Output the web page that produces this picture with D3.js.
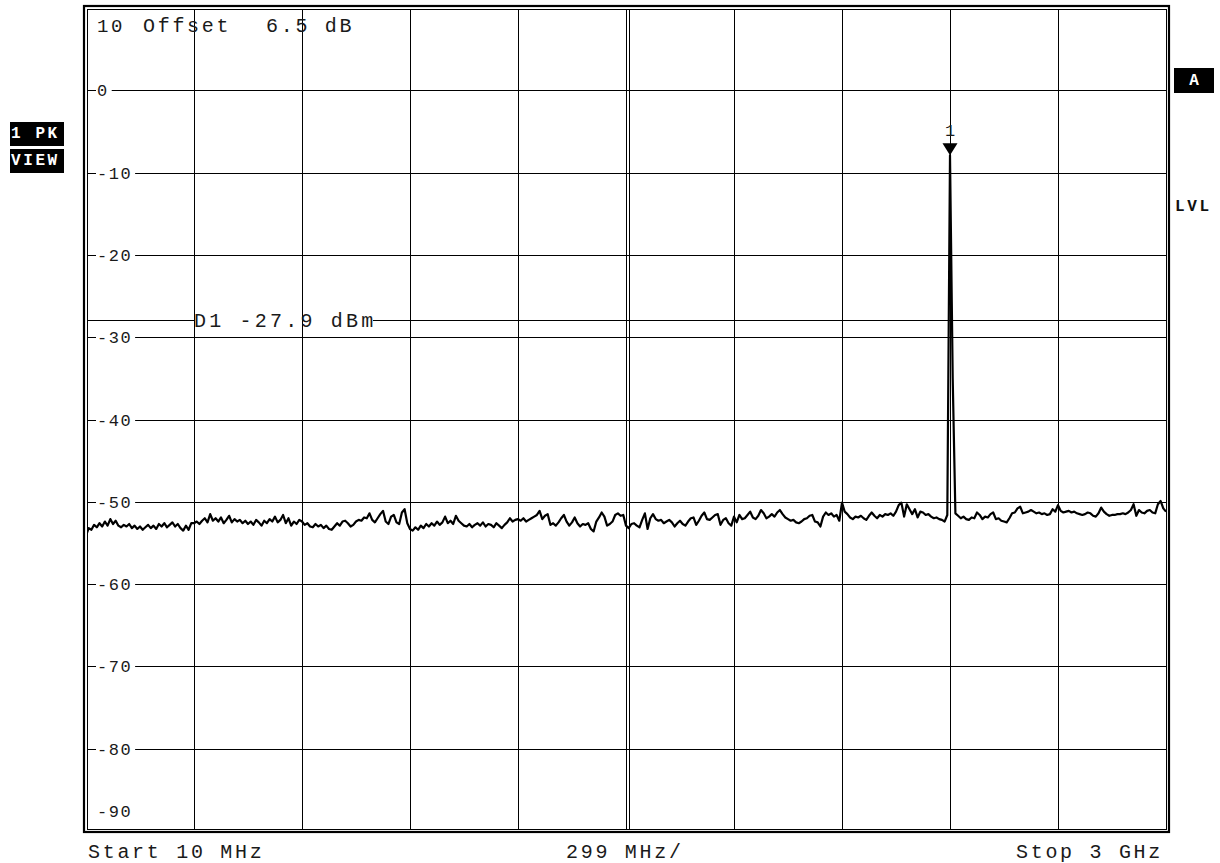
<!DOCTYPE html>
<html><head><meta charset="utf-8">
<script src="https://cdn.jsdelivr.net/npm/d3@7"></script>
<style>
html,body{margin:0;padding:0;background:#fff;}
svg{display:block;}
text{font-family:"Liberation Mono","Courier New",monospace;}
</style>
</head><body>
<svg id="chart" width="1220" height="863"></svg>
<script>
// ---- data ----
const freqStartMHz = 10;
const freqStopMHz = 3000;
const freqPerDivMHz = 299;
const refLevelDb = 10;
const dbPerDiv = 10;
const yTickValues = [10, 0, -10, -20, -30, -40, -50, -60, -70, -80, -90];
const yTickLabels = ["10", "0", "-10", "-20", "-30", "-40", "-50", "-60", "-70", "-80", "-90"];
const offsetLabel = ["Offset", "6.5 dB"];
const bottomLabels = ["Start 10 MHz", "299 MHz/", "Stop 3 GHz"];
const displayLineDbm = -27.9;
const displayLineLabel = "D1 -27.9 dBm";
const markerFreqs = [2402];
const markerLevels = [-7.9];
const markerLabels = ["1"];
const leftBadges = ["1 PK", "VIEW"];
const rightBadge = "A";
const rightLabel = "LVL";
// trace, 401 sweep points from 10 MHz to 3 GHz (dBm)
const traceDbm = [
 -54.1,-53.2,-53.4,-52.8,-53.1,-52.6,-53.0,-52.4,-52.9,-52.1,
 -52.7,-52.3,-52.9,-53.1,-52.8,-53.0,-52.7,-53.2,-52.9,-53.3,
 -53.0,-53.4,-53.1,-52.8,-53.2,-52.9,-53.3,-52.7,-53.0,-52.6,
 -53.1,-52.8,-52.5,-53.0,-52.7,-53.2,-53.5,-52.9,-53.4,-52.6,
 -52.6,-52.4,-52.7,-52.3,-52.0,-52.5,-51.5,-52.3,-52.0,-52.4,
 -51.9,-52.6,-52.2,-51.7,-52.5,-52.1,-52.4,-52.2,-52.6,-52.3,
 -52.7,-52.4,-52.8,-52.2,-52.5,-52.9,-52.3,-52.6,-52.1,-52.4,
 -51.8,-52.5,-52.2,-51.6,-52.6,-52.0,-52.9,-52.4,-52.7,-52.2,
 -52.4,-52.8,-52.6,-53.0,-53.1,-52.7,-53.0,-52.8,-53.2,-52.9,
 -53.3,-53.4,-53.0,-52.6,-52.9,-52.4,-52.3,-52.6,-53.0,-52.8,
 -52.4,-52.2,-52.3,-51.9,-52.0,-51.4,-52.2,-52.5,-52.0,-51.5,
 -51.1,-52.4,-52.7,-51.8,-51.6,-52.5,-52.7,-51.3,-50.9,-52.6,
 -53.3,-53.5,-53.1,-53.4,-52.9,-53.2,-52.7,-53.0,-52.6,-52.9,
 -52.4,-52.8,-52.5,-51.8,-52.6,-52.3,-52.7,-51.7,-52.3,-52.6,
 -52.9,-53.0,-52.7,-53.1,-52.8,-52.6,-52.9,-52.5,-53.0,-52.7,
 -52.8,-53.1,-52.6,-52.9,-53.2,-52.8,-52.5,-52.0,-52.4,-52.2,
 -52.1,-52.3,-52.0,-52.4,-52.2,-52.0,-51.8,-51.6,-51.1,-52.1,
 -51.7,-51.5,-52.8,-52.6,-52.9,-52.5,-52.0,-51.6,-52.4,-52.9,
 -52.5,-51.9,-52.6,-53.0,-52.7,-52.8,-52.6,-53.3,-53.6,-52.4,
 -51.9,-51.3,-51.8,-52.9,-52.7,-52.4,-51.6,-51.4,-51.7,-51.6,
 -52.9,-53.2,-52.7,-52.6,-52.9,-53.1,-52.2,-51.4,-53.3,-52.0,
 -51.5,-52.1,-52.3,-52.2,-52.6,-52.4,-52.2,-52.5,-53.0,-52.6,
 -52.3,-52.7,-52.9,-52.4,-52.0,-51.9,-52.8,-52.3,-51.7,-51.3,
 -52.1,-52.2,-51.9,-51.6,-51.5,-52.8,-52.2,-52.0,-52.6,-52.9,
 -51.8,-52.5,-51.6,-52.1,-52.0,-51.6,-51.2,-51.9,-52.1,-51.7,
 -51.0,-51.4,-52.0,-51.8,-51.5,-51.8,-51.3,-51.0,-51.5,-51.9,
 -52.1,-52.3,-52.2,-52.5,-52.6,-52.4,-52.1,-52.0,-51.7,-51.6,
 -52.4,-52.5,-53.0,-51.8,-51.3,-51.6,-51.4,-51.8,-51.6,-52.3,
 -50.1,-51.2,-51.5,-51.9,-52.1,-51.8,-51.9,-51.7,-52.0,-52.2,
 -51.7,-51.3,-51.7,-52.0,-51.6,-51.8,-51.5,-51.6,-51.4,-51.7,
 -51.2,-50.4,-50.1,-51.8,-50.3,-50.9,-51.5,-50.9,-51.9,-51.2,
 -51.3,-51.6,-51.5,-51.8,-52.0,-51.9,-52.1,-52.2,-52.4,-51.6,
 -7.9,-35.0,
 -51.4,-51.7,-52.0,-51.8,-52.1,-52.2,-51.9,-52.0,
 -51.3,-51.6,-52.1,-51.8,-51.9,-51.5,-51.3,-52.1,-52.0,-52.3,
 -52.4,-52.5,-52.0,-51.4,-51.3,-50.8,-50.6,-51.4,-51.3,-51.2,
 -51.0,-51.2,-51.4,-51.3,-51.5,-51.4,-51.6,-51.5,-50.9,-51.2,
 -50.4,-51.1,-51.3,-51.2,-51.1,-51.3,-51.2,-51.4,-51.5,-51.6,
 -51.5,-51.3,-51.4,-51.7,-51.8,-51.4,-50.7,-51.2,-51.5,-51.7,
 -51.6,-51.6,-51.5,-51.5,-51.4,-51.5,-51.3,-51.0,-50.3,-51.7,
 -51.0,-51.3,-51.4,-51.1,-51.0,-51.3,-51.4,-50.3,-49.9,-50.8,
 -51.2
];

// ---- drawing ----
const svg = d3.select("#chart");
const L = 86, R = 1166, T = 8, B = 831;
const x = d3.scaleLinear().domain([freqStartMHz, freqStopMHz]).range([L, R]);
const y = d3.scaleLinear().domain([refLevelDb, refLevelDb - 10 * dbPerDiv]).range([T, B]);
const nPts = traceDbm.length;
const stepMHz = (freqStopMHz - freqStartMHz) / (nPts - 1);
const crisp = v => Math.round(v) + 0.5;

svg.append("rect").attr("width", 1220).attr("height", 863).attr("fill", "#fff");

const grid = svg.append("g").attr("stroke", "#000").attr("stroke-width", 1)
  .attr("shape-rendering", "crispEdges").attr("fill", "none");

// vertical grid lines
const nDiv = Math.round((freqStopMHz - freqStartMHz) / freqPerDivMHz);
const vFreqs = d3.range(1, nDiv).map(k => freqStartMHz + k * freqPerDivMHz);
grid.selectAll("line.v").data(vFreqs).join("line")
  .attr("x1", d => crisp(x(d))).attr("x2", d => crisp(x(d)))
  .attr("y1", 9).attr("y2", 830);
// center double line
const centerF = freqStartMHz + 5 * freqPerDivMHz;
grid.append("line").attr("x1", crisp(x(centerF)) + 3).attr("x2", crisp(x(centerF)) + 3)
  .attr("y1", 9).attr("y2", 830);

// horizontal grid lines
const hVals = yTickValues.filter(v => v < refLevelDb && v > refLevelDb - 10 * dbPerDiv);
grid.selectAll("line.h").data(hVals).join("line")
  .attr("x1", 87).attr("x2", R)
  .attr("y1", d => crisp(y(d))).attr("y2", d => crisp(y(d)));

// y labels
const labG = svg.append("g");
yTickValues.forEach((v, i) => {
  const lab = yTickLabels[i];
  let base, fs = 17, ls = 1.5;
  if (i === 0) { base = y(v) + 24; fs = 19; ls = 2.5; }
  else if (i === yTickValues.length - 1) base = y(v) - 14;
  else base = y(v) + 6;
  const t = labG.append("text").attr("x", 97).attr("y", base)
    .attr("font-size", fs).attr("letter-spacing", ls).attr("fill", "#1a1a1a").text(lab);
  if (i > 0 && i < yTickValues.length - 1) {
    const w = t.node().getComputedTextLength();
    labG.insert("rect", "text").attr("x", 96).attr("y", y(v) - 8)
      .attr("width", w + 4).attr("height", 15).attr("fill", "#fff");
  }
});

// display line D1
const dY = crisp(y(displayLineDbm));
const dTxt = svg.append("text").attr("x", 194).attr("y", dY + 6)
  .attr("font-size", 20).attr("letter-spacing", 3.2).attr("fill", "#1a1a1a").text(displayLineLabel);
const dW = dTxt.node().getComputedTextLength();
const dG = svg.append("g").attr("stroke", "#000").attr("stroke-width", 1).attr("shape-rendering", "crispEdges");
dG.append("line").attr("x1", 87).attr("x2", 194).attr("y1", dY).attr("y2", dY);
dG.append("line").attr("x1", 194 + dW - 3).attr("x2", R).attr("y1", dY).attr("y2", dY);

// trace
svg.append("clipPath").attr("id", "plotclip").append("rect")
  .attr("x", 87).attr("y", 9).attr("width", R - 87).attr("height", 821);
const line = d3.line()
  .x((d, i) => x(freqStartMHz + i * stepMHz))
  .y(d => y(d));
svg.append("path").datum(traceDbm).attr("clip-path", "url(#plotclip)")
  .attr("d", line).attr("fill", "none").attr("stroke", "#000")
  .attr("stroke-width", 2.2).attr("stroke-linejoin", "round");

// marker
markerFreqs.forEach((f, i) => {
  const cx = x(f), ty = y(markerLevels[i]);
  svg.append("path")
    .attr("d", `M${cx - 7.5},${ty - 12}L${cx + 7.5},${ty - 12}L${cx},${ty}Z`)
    .attr("fill", "#000");
  svg.append("text").attr("x", cx).attr("y", ty - 19).attr("text-anchor", "middle")
    .attr("font-size", 17).attr("fill", "#1a1a1a").text(markerLabels[i]);
});

// borders
svg.append("rect").attr("x", 84).attr("y", 6).attr("width", 1169 - 84).attr("height", 832 - 6)
  .attr("fill", "none").attr("stroke", "#000").attr("stroke-width", 2.2);
svg.append("rect").attr("x", 87.5).attr("y", 9.5).attr("width", 1166.5 - 87.5).attr("height", 829.5 - 9.5)
  .attr("fill", "none").attr("stroke", "#000").attr("stroke-width", 1).attr("shape-rendering", "crispEdges");

// top annotation
svg.append("text").attr("x", 143).attr("y", 32).attr("font-size", 20).attr("letter-spacing", 2.7)
  .attr("fill", "#1a1a1a").text(offsetLabel[0]);
svg.append("text").attr("x", 266).attr("y", 32).attr("font-size", 20).attr("letter-spacing", 2.7)
  .attr("fill", "#1a1a1a").text(offsetLabel[1]);

// bottom annotation
const bx = [88, 566, 1016];
bottomLabels.forEach((s, i) => {
  svg.append("text").attr("x", bx[i]).attr("y", 858).attr("font-size", 20).attr("letter-spacing", 2.7)
    .attr("fill", "#1a1a1a").text(s);
});

// left badges
const badgeY = [122, 149];
leftBadges.forEach((s, i) => {
  svg.append("rect").attr("x", 10).attr("y", badgeY[i]).attr("width", 54).attr("height", 24).attr("fill", "#000");
  svg.append("text").attr("x", 11).attr("y", badgeY[i] + 16).attr("font-size", 16).attr("font-weight", "bold")
    .attr("letter-spacing", 2.6).attr("fill", "#fff").text(s);
});

// right badge and label
svg.append("rect").attr("x", 1174).attr("y", 68).attr("width", 40).attr("height", 25).attr("fill", "#000");
svg.append("text").attr("x", 1194).attr("y", 85).attr("text-anchor", "middle").attr("font-size", 16)
  .attr("font-weight", "bold").attr("fill", "#fff").text(rightBadge);
svg.append("text").attr("x", 1175).attr("y", 211).attr("font-size", 16).attr("font-weight", "bold")
  .attr("letter-spacing", 2.6).attr("fill", "#111").text(rightLabel);
</script>
</body></html>
